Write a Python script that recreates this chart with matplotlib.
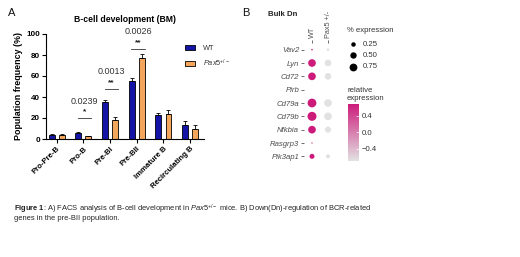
import numpy as np
import matplotlib
matplotlib.use("Agg")
import matplotlib.pyplot as plt
from matplotlib.colors import LinearSegmentedColormap, Normalize
from matplotlib.patches import Patch

plt.rcParams['font.family'] = ['Liberation Sans', 'DejaVu Sans']
plt.rcParams['mathtext.fontset'] = 'custom'
plt.rcParams['mathtext.rm'] = 'Liberation Sans'
plt.rcParams['mathtext.it'] = 'Liberation Sans:italic'
plt.rcParams['mathtext.bf'] = 'Liberation Sans:bold'

# ---------------- data: panel A ----------------
stages = ["Pro-Pre-B", "Pro-B", "Pre-BI", "Pre-BII", "Immature B", "Recirculating B"]
wt_mean = [4.0, 5.5, 35.5, 55.5, 22.5, 13.0]
wt_err = [0.5, 0.8, 1.5, 3.0, 2.0, 4.0]
pax_mean = [3.5, 2.5, 17.8, 77.0, 23.5, 10.0]
pax_err = [1.0, 0.8, 3.5, 4.0, 4.0, 3.5]
sig_groups = [1, 2, 3]
sig_pvals = ["0.0239", "0.0013", "0.0026"]
sig_stars = ["*", "**", "**"]
sig_line_y = [20, 48, 86]

# ---------------- data: panel B ----------------
genes = ["Vav2", "Lyn", "Cd72", "Pirb", "Cd79a", "Cd79b", "Nfkbia", "Rasgrp3", "Pik3ap1"]
groups_b = ["WT", "Pax5 +/-"]
pct_wt = [0.03, 0.73, 0.73, 0.0, 0.95, 1.0, 0.73, 0.02, 0.31]
pct_pax = [0.08, 0.55, 0.55, 0.0, 0.72, 0.73, 0.45, 0.0, 0.20]
rel_wt = [0.707, 0.707, 0.707, 0.707, 0.707, 0.707, 0.707, 0.707, 0.707]
rel_pax = [-0.707, -0.707, -0.707, -0.707, -0.707, -0.707, -0.707, -0.707, -0.707]
size_legend = [0.25, 0.50, 0.75]
cbar_ticks = [0.4, 0.0, -0.4]

W, H = 520, 257
fig = plt.figure(figsize=(W / 100, H / 100), dpi=100)


def box(l, t, r, b):
    return [l / W, 1 - b / H, (r - l) / W, (b - t) / H]


# ---------------- panel A ----------------
axA = fig.add_axes(box(46, 34, 204, 139))
x = np.arange(len(stages))
off, bw = 0.1875, 0.22
wt_col, pax_col = "#1414a6", "#f4a65c"
axA.bar(x - off, wt_mean, bw, color=wt_col, edgecolor="black", linewidth=0.6, zorder=2)
axA.bar(x + off, pax_mean, bw, color=pax_col, edgecolor="black", linewidth=0.6, zorder=2)
axA.errorbar(x - off, wt_mean, yerr=[np.zeros(len(x)), wt_err], fmt="none",
             ecolor="black", elinewidth=0.6, capsize=1.5, capthick=0.6, zorder=3)
axA.errorbar(x + off, pax_mean, yerr=[np.zeros(len(x)), pax_err], fmt="none",
             ecolor="black", elinewidth=0.6, capsize=1.5, capthick=0.6, zorder=3)
axA.set_xlim(-0.40, 5.52)
axA.set_ylim(0, 100)
axA.set_yticks([0, 20, 40, 60, 80, 100])
axA.set_xticks(x)
axA.set_xticklabels(stages, rotation=45, ha="right", va="top", rotation_mode="anchor",
                    fontsize=5.6, fontweight="bold")
for lab in axA.get_yticklabels():
    lab.set_fontweight("bold")
axA.tick_params(axis="y", labelsize=5.8, length=3, width=0.8, pad=1.5)
axA.tick_params(axis="x", length=3, width=0.8, pad=1.5)
for s in ["top", "right"]:
    axA.spines[s].set_visible(False)
for s in ["left", "bottom"]:
    axA.spines[s].set_linewidth(0.8)
axA.set_ylabel("Population frequency (%)", fontsize=6.4, fontweight="bold", labelpad=2)
axA.set_title("B-cell development (BM)", fontsize=6.2, fontweight="bold", pad=9)

for g, p, st, ly in zip(sig_groups, sig_pvals, sig_stars, sig_line_y):
    axA.plot([g - 0.2, g + 0.3], [ly, ly], color="#333333", lw=0.6, clip_on=False)
    axA.text(g + 0.05, ly + 5.5, st, ha="center", va="center", fontsize=6,
             fontweight="bold", color="#222222")
    axA.text(g + 0.05, ly + 16, p, ha="center", va="center", fontsize=6.5,
             color="#333333", clip_on=False)

handles = [Patch(facecolor=wt_col, edgecolor="black", linewidth=0.6),
           Patch(facecolor=pax_col, edgecolor="black", linewidth=0.6)]
axA.legend(handles, ["WT", r"$\it{Pax5}^{+/-}$"], loc="upper left",
           bbox_to_anchor=(185 / W, 1 - 45 / H), bbox_transform=fig.transFigure,
           frameon=False, fontsize=5.3, handlelength=1.4, handleheight=0.7,
           handletextpad=1.1, labelspacing=0.75, borderpad=0, borderaxespad=0,
           labelcolor="#333333")

fig.text(8 / W, 1 - 13 / H, "A", fontsize=8, va="center", ha="left", color="#111111")
fig.text(242 / W, 1 - 13 / H, "B", fontsize=8, va="center", ha="left", color="#111111")

# ---------------- panel B ----------------
cmap = LinearSegmentedColormap.from_list("gm", ["#e2e2e2", "#cc1a7a"])
norm = Normalize(-0.707, 0.707)
axB = fig.add_axes(box(304, 43, 336, 163))
rows = np.arange(len(genes))


def sz(p):
    return 42.0 * np.asarray(p)


for xi, pct, rel in [(1, pct_wt, rel_wt), (2, pct_pax, rel_pax)]:
    pct = np.asarray(pct)
    m = pct > 0
    axB.scatter(np.full(m.sum(), xi), rows[m], s=sz(pct[m]), c=np.asarray(rel)[m],
                cmap=cmap, norm=norm, linewidths=0, zorder=2)
axB.set_xlim(0.5, 2.5)
axB.set_ylim(len(genes) - 0.5, -0.5)
axB.set_yticks(rows)
axB.set_yticklabels(genes, fontsize=5.6, style="italic", color="#4d4d4d")
axB.xaxis.tick_top()
axB.set_xticks([1, 2])
axB.set_xticklabels(groups_b, rotation=90, fontsize=5.2, color="#4d4d4d")
axB.tick_params(axis="both", length=2, width=0.5, color="#333333", pad=1.5)
for s in axB.spines.values():
    s.set_visible(False)
fig.text(268 / W, 1 - 15 / H, "Bulk Dn", fontsize=5.6, fontweight="bold",
         va="center", ha="left", color="#222222")

# size legend
fig.text(347 / W, 1 - 31 / H, "% expression", fontsize=5.6, va="center", ha="left",
         color="#333333")
axL = fig.add_axes(box(340, 38, 400, 72))
axL.set_xlim(340, 400)
axL.set_ylim(72, 38)
axL.axis("off")
for i, v in enumerate(size_legend):
    yy = 44 + 11.3 * i
    axL.scatter([353.3], [yy], s=sz(v), color="black", linewidths=0)
    axL.text(362.5, yy, f"{v:.2f}", fontsize=5.6, va="center", ha="left", color="#333333")

# colorbar
fig.text(347 / W, 1 - 90 / H, "relative", fontsize=5.6, va="center", ha="left", color="#333333")
fig.text(347 / W, 1 - 98 / H, "expression", fontsize=5.6, va="center", ha="left", color="#333333")
cax = fig.add_axes(box(347.5, 103.5, 358.5, 161))
sm = plt.cm.ScalarMappable(norm=norm, cmap=cmap)
cb = fig.colorbar(sm, cax=cax)
cb.outline.set_visible(False)
cb.set_ticks(cbar_ticks)
cb.set_ticklabels([f"{t:.1f}".replace("-", "\u2212") for t in cbar_ticks])
cax.tick_params(length=2, width=0.5, color="white", labelsize=5.6, labelcolor="#333333",
                pad=2.5, direction="in")

# ---------------- caption ----------------
fig.text(14 / W, 1 - 209 / H,
         r"$\bf{Figure\ 1}$: A) FACS analysis of B-cell development in $\it{Pax5}^{+/-}$ mice. "
         "B) Down(Dn)-regulation of BCR-related",
         fontsize=5.4, va="center", ha="left", color="#222222")
fig.text(14 / W, 1 - 218 / H, "genes in the pre-BII population.",
         fontsize=5.4, va="center", ha="left", color="#222222")

fig.savefig("out.png", dpi=100)
